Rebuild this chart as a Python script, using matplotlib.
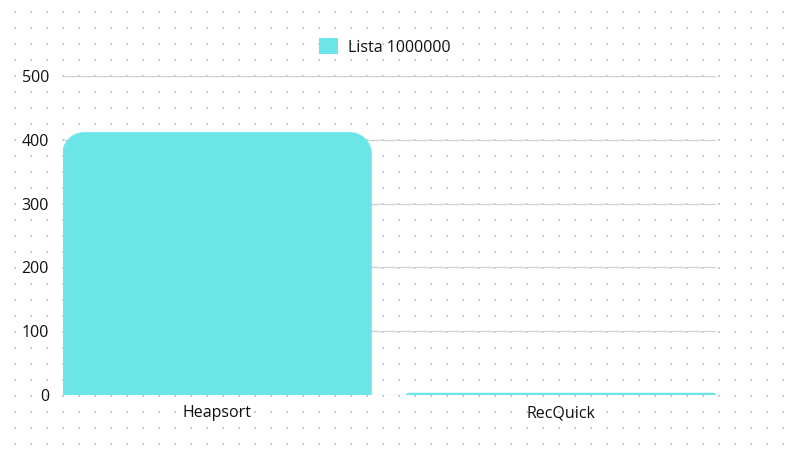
import numpy as np
import matplotlib.pyplot as plt
from matplotlib.path import Path
from matplotlib.patches import PathPatch, Patch

# Datos
algoritmos = ["Heapsort", "RecQuick"]
tiempos = [412, 3.5]
serie = "Lista 1000000"
ticks_y = [0, 100, 200, 300, 400, 500]

color_barra = "#6be5e8"
plt.rcParams['font.family'] = ['Open Sans', 'DejaVu Sans']

W, H = 789, 457
fig = plt.figure(figsize=(W / 100, H / 100), dpi=100)

# Fondo punteado
fondo = fig.add_axes([0, 0, 1, 1], zorder=0)
fondo.set_xlim(0, W)
fondo.set_ylim(H, 0)
fondo.axis("off")
gx, gy = np.meshgrid(np.arange(15, W, 16), np.arange(12, H, 16))
fondo.scatter(gx.ravel(), gy.ravel(), s=2.2, marker="s", color="#c9ced8", linewidths=0)

# Ejes principales
ax = fig.add_axes([63 / W, 62 / H, (716 - 63) / W, (395 - 76) / H], zorder=1)
ax.patch.set_alpha(0)
ax.set_ylim(0, 500)
ax.set_xlim(-0.4477, 1.4506)
ax.set_yticks(ticks_y)
ax.set_xticks(range(len(algoritmos)))
ax.set_xticklabels(algoritmos)
ax.tick_params(length=0, labelsize=11.5, colors="#111111")
ax.tick_params(axis="y", pad=10)
ax.tick_params(axis="x", pad=7.5)
for s in ax.spines.values():
    s.set_visible(False)
ax.grid(axis="y", color="#d2d2d2", linewidth=1)
ax.set_axisbelow(True)

# Barras con esquinas superiores redondeadas
ancho = 0.9
radio_px = 22
px_x = (ax.get_xlim()[1] - ax.get_xlim()[0]) / (716 - 63)
px_y = 500 / (395 - 76)
for i, v in enumerate(tiempos):
    x0, x1 = i - ancho / 2, i + ancho / 2
    r = min(radio_px, v / px_y)
    rx, ry = r * px_x, r * px_y
    t = np.linspace(0, np.pi / 2, 20)
    izq = np.column_stack([x0 + rx - rx * np.cos(t), v - ry + ry * np.sin(t)])
    der = np.column_stack([x1 - rx + rx * np.sin(t), v - ry + ry * np.cos(t)])
    pts = np.vstack([[x0, 0], izq, der, [x1, 0], [x0, 0]])
    ax.add_patch(PathPatch(Path(pts), facecolor=color_barra, edgecolor="none", zorder=2))

# Leyenda
leg = ax.legend(handles=[Patch(facecolor=color_barra, label=serie)], loc="lower center",
                bbox_to_anchor=(0.493, 1.019), frameon=False, fontsize=11.5,
                handlelength=1.2, handleheight=1.2, handletextpad=0.65)
for t in leg.get_texts():
    t.set_color("#111111")

plt.savefig("out.png", dpi=100)
